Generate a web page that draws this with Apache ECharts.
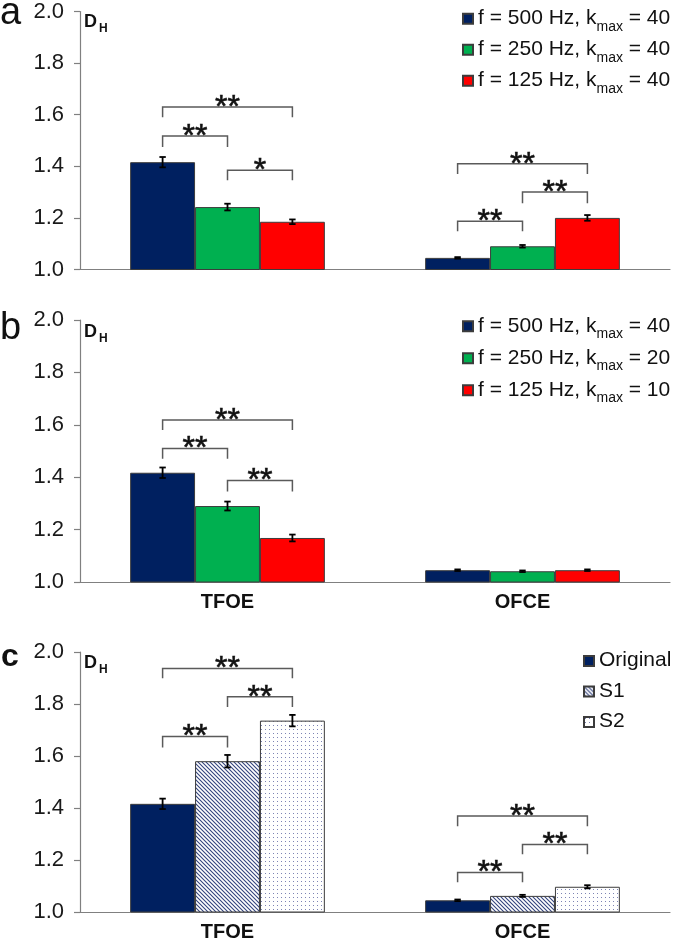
<!DOCTYPE html>
<html><head><meta charset="utf-8">
<script src="https://cdn.jsdelivr.net/npm/echarts@6/dist/echarts.min.js"></script>
<style>html,body{margin:0;padding:0;background:#fff}#c{width:675px;height:942px}</style>
</head><body><div id="c"></div>
<script>
// ---------- DATA ----------
const categories = ['TFOE', 'OFCE'];

// Panel a
const legendA = ['f = 500 Hz, kmax = 40', 'f = 250 Hz, kmax = 40', 'f = 125 Hz, kmax = 40'];
const a500 = [1.416, 1.045];
const a250 = [1.242, 1.090];
const a125 = [1.185, 1.200];
const a500Err = [0.020, 0.003];
const a250Err = [0.013, 0.005];
const a125Err = [0.009, 0.011];
// [category, fromBar, toBar, line value, leg-end value, label]
const bracketsA = [
  [0, 0, 2, 1.630, 1.590, '**'],
  [0, 0, 1, 1.517, 1.475, '**'],
  [0, 1, 2, 1.385, 1.346, '*'],
  [1, 0, 2, 1.410, 1.370, '**'],
  [1, 1, 2, 1.300, 1.257, '**'],
  [1, 0, 1, 1.187, 1.148, '**']
];

// Panel b
const legendB = ['f = 500 Hz, kmax = 40', 'f = 250 Hz, kmax = 20', 'f = 125 Hz, kmax = 10'];
const b500 = [1.417, 1.045];
const b250 = [1.290, 1.041];
const b125 = [1.168, 1.045];
const b500Err = [0.020, 0.003];
const b250Err = [0.017, 0.003];
const b125Err = [0.013, 0.003];
const bracketsB = [
  [0, 0, 2, 1.618, 1.580, '**'],
  [0, 0, 1, 1.510, 1.470, '**'],
  [0, 1, 2, 1.387, 1.345, '**']
];

// Panel c
const legendC = ['Original', 'S1', 'S2'];
const cOrig = [1.416, 1.045];
const cS1 = [1.580, 1.062];
const cS2 = [1.736, 1.097];
const cOrigErr = [0.020, 0.003];
const cS1Err = [0.024, 0.004];
const cS2Err = [0.022, 0.006];
const bracketsC = [
  [0, 0, 2, 1.937, 1.899, '**'],
  [0, 1, 2, 1.828, 1.788, '**'],
  [0, 0, 1, 1.675, 1.633, '**'],
  [1, 0, 2, 1.369, 1.330, '**'],
  [1, 1, 2, 1.260, 1.222, '**'],
  [1, 0, 1, 1.152, 1.114, '**']
];

// ---------- STYLE ----------
const FONT = 'Liberation Sans';
const NAVY = '#002060', GREEN = '#00B050', RED = '#FF0000';
const CAT_GAP = 0.34;
const AXIS_COLOR = '#808080';

function hatchPattern() {
  const c = document.createElement('canvas');
  c.width = 4; c.height = 4;
  const g = c.getContext('2d');
  g.fillStyle = '#ffffff'; g.fillRect(0, 0, 4, 4);
  g.strokeStyle = '#34447e'; g.lineWidth = 1.1;
  g.beginPath();
  g.moveTo(-1, -1); g.lineTo(5, 5);
  g.moveTo(-1, 3); g.lineTo(1, 5);
  g.moveTo(3, -1); g.lineTo(5, 1);
  g.stroke();
  return { image: c, repeat: 'repeat' };
}
function dotPattern() {
  const c = document.createElement('canvas');
  c.width = 4; c.height = 4;
  const g = c.getContext('2d');
  g.fillStyle = '#ffffff'; g.fillRect(0, 0, 4, 4);
  g.fillStyle = '#7d84b4'; g.fillRect(1, 1, 1, 1);
  return { image: c, repeat: 'repeat' };
}

const grids = [
  { left: 80, right: 5, top: 11.5, height: 258 },
  { left: 80, right: 5, top: 320, height: 262 },
  { left: 80, right: 5, top: 652, height: 261 }
];

const xAxes = grids.map((g, i) => ({
  type: 'category', gridIndex: i, data: categories,
  axisLine: { lineStyle: { color: AXIS_COLOR, width: 1.2 } },
  axisTick: { show: false },
  axisLabel: { show: i > 0, fontFamily: FONT, fontSize: 20, fontWeight: 'bold', color: '#111', margin: 10 }
}));
const yAxes = grids.map((g, i) => ({
  type: 'value', gridIndex: i, min: 1, max: 2, interval: 0.2,
  splitLine: { show: false },
  axisLine: { show: true, lineStyle: { color: AXIS_COLOR, width: 1.2 } },
  axisTick: { show: true, length: 6, lineStyle: { color: AXIS_COLOR, width: 1.2 } },
  axisLabel: { fontFamily: FONT, fontSize: 22, color: '#1a1a1a', margin: 16, formatter: v => v.toFixed(1) }
}));

const series = [];
function addBars(gi, names, vals, colors) {
  vals.forEach((v, k) => {
    series.push({
      type: 'bar', name: names[k], xAxisIndex: gi, yAxisIndex: gi, data: v,
      barGap: '0%', barCategoryGap: (CAT_GAP * 100) + '%',
      itemStyle: { color: colors[k], borderColor: '#3c3c3c', borderWidth: 1 },
      emphasis: { disabled: true }, z: 2
    });
  });
}
function addErrors(gi, vals, errs) {
  const data = [];
  vals.forEach((v, k) => v.forEach((y, c) => data.push([c, k, y, errs[k][c]])));
  series.push({
    type: 'custom', xAxisIndex: gi, yAxisIndex: gi, data: data, z: 5,
    encode: { x: 0, y: 2 },
    renderItem(params, api) {
      const cat = api.value(0), k = api.value(1), v = api.value(2), e = api.value(3);
      const band = api.size([1, 0])[0];
      const bw = band * (1 - CAT_GAP) / 3;
      const x = api.coord([cat, v])[0] + (k - 1) * bw;
      const yt = api.coord([cat, v + e])[1], yb = api.coord([cat, v - e])[1];
      const st = { stroke: '#000', lineWidth: 1.8 };
      return { type: 'group', children: [
        { type: 'line', shape: { x1: x, y1: yt, x2: x, y2: yb }, style: st },
        { type: 'line', shape: { x1: x - 3.2, y1: yt, x2: x + 3.2, y2: yt }, style: st },
        { type: 'line', shape: { x1: x - 3.2, y1: yb, x2: x + 3.2, y2: yb }, style: st }
      ] };
    }
  });
}
function addBrackets(gi, br) {
  series.push({
    type: 'custom', xAxisIndex: gi, yAxisIndex: gi, z: 6,
    data: br.map(b => [b[0], b[1], b[2], b[3], b[4]]),
    encode: { x: 0, y: 3 },
    renderItem(params, api) {
      const cat = api.value(0), f = api.value(1), t = api.value(2), yl = api.value(3), yg = api.value(4);
      const band = api.size([1, 0])[0];
      const bw = band * (1 - CAT_GAP) / 3;
      const cx = api.coord([cat, yl])[0];
      const x1 = cx + (f - 1) * bw, x2 = cx + (t - 1) * bw;
      const pl = api.coord([cat, yl])[1], pg = api.coord([cat, yg])[1];
      return { type: 'group', children: [
        { type: 'polyline', shape: { points: [[x1, pg], [x1, pl], [x2, pl], [x2, pg]] },
          style: { stroke: '#5a5a5a', lineWidth: 1.5, fill: null } },
        { type: 'text', x: (x1 + x2) / 2, y: pl + 1,
          style: { text: br[params.dataIndex][5], fontFamily: FONT, fontSize: 32, fill: '#111',
                   align: 'center', verticalAlign: 'middle', stroke: '#111', lineWidth: 0.6 } }
      ] };
    }
  });
}

addBars(0, legendA, [a500, a250, a125], [NAVY, GREEN, RED]);
addErrors(0, [a500, a250, a125], [a500Err, a250Err, a125Err]);
addBrackets(0, bracketsA);
addBars(1, legendB, [b500, b250, b125], [NAVY, GREEN, RED]);
addErrors(1, [b500, b250, b125], [b500Err, b250Err, b125Err]);
addBrackets(1, bracketsB);
addBars(2, legendC, [cOrig, cS1, cS2], [NAVY, hatchPattern(), dotPattern()]);
addErrors(2, [cOrig, cS1, cS2], [cOrigErr, cS1Err, cS2Err]);
addBrackets(2, bracketsC);

function legendCfg(names, left, top, gap) {
  return {
    data: names, orient: 'vertical', left: left, top: top, padding: 0,
    itemWidth: 10, itemHeight: 10, itemGap: gap, icon: 'rect', selectedMode: false,
    textStyle: { fontFamily: FONT, fontSize: 21, color: '#111',
      rich: {
        m: { fontFamily: FONT, fontSize: 21, color: '#111', lineHeight: 22, verticalAlign: 'top' },
        s: { fontFamily: FONT, fontSize: 14, color: '#111', lineHeight: 14, verticalAlign: 'top', padding: [12, 0, 0, 0] }
      } },
    formatter: n => {
      const i = n.indexOf('kmax');
      if (i < 0) return '{m|' + n + '}';
      return '{m|' + n.slice(0, i + 1) + '}{s|max}{m|' + n.slice(i + 4) + '}';
    }
  };
}

function txt(x, yBottom, text, size, weight) {
  return { type: 'text', x: x, y: yBottom, silent: true,
    style: { text: text, fontFamily: FONT, fontSize: size, fontWeight: weight || 'normal', fill: '#111', align: 'left', verticalAlign: 'bottom' } };
}
const letterBase = [25, 340, 667];
const dBase = [27, 337, 668];
const graphics = [];
['a', 'b', 'c'].forEach((l, i) => {
  graphics.push(txt(i === 2 ? 1 : 0, letterBase[i] + (i === 2 ? 6.5 : 8), l, i === 2 ? 32 : 38, i === 2 ? 'bold' : 'normal'));
  graphics.push(txt(84, dBase[i] + 3.8, 'D', 18, 'bold'));
  graphics.push(txt(99, dBase[i] + 3.5 + 4, 'H', 12, 'bold'));
});

const chart = echarts.init(document.getElementById('c'), null, { renderer: 'canvas' });
chart.setOption({
  animation: false,
  backgroundColor: '#fff',
  grid: grids,
  xAxis: xAxes,
  yAxis: yAxes,
  legend: [legendCfg(legendA, 462, 7.7, 5), legendCfg(legendB, 462, 315.3, 6), legendCfg(legendC, 583, 650, 9.5)],
  series: series,
  graphic: graphics
});
</script>
</body></html>
